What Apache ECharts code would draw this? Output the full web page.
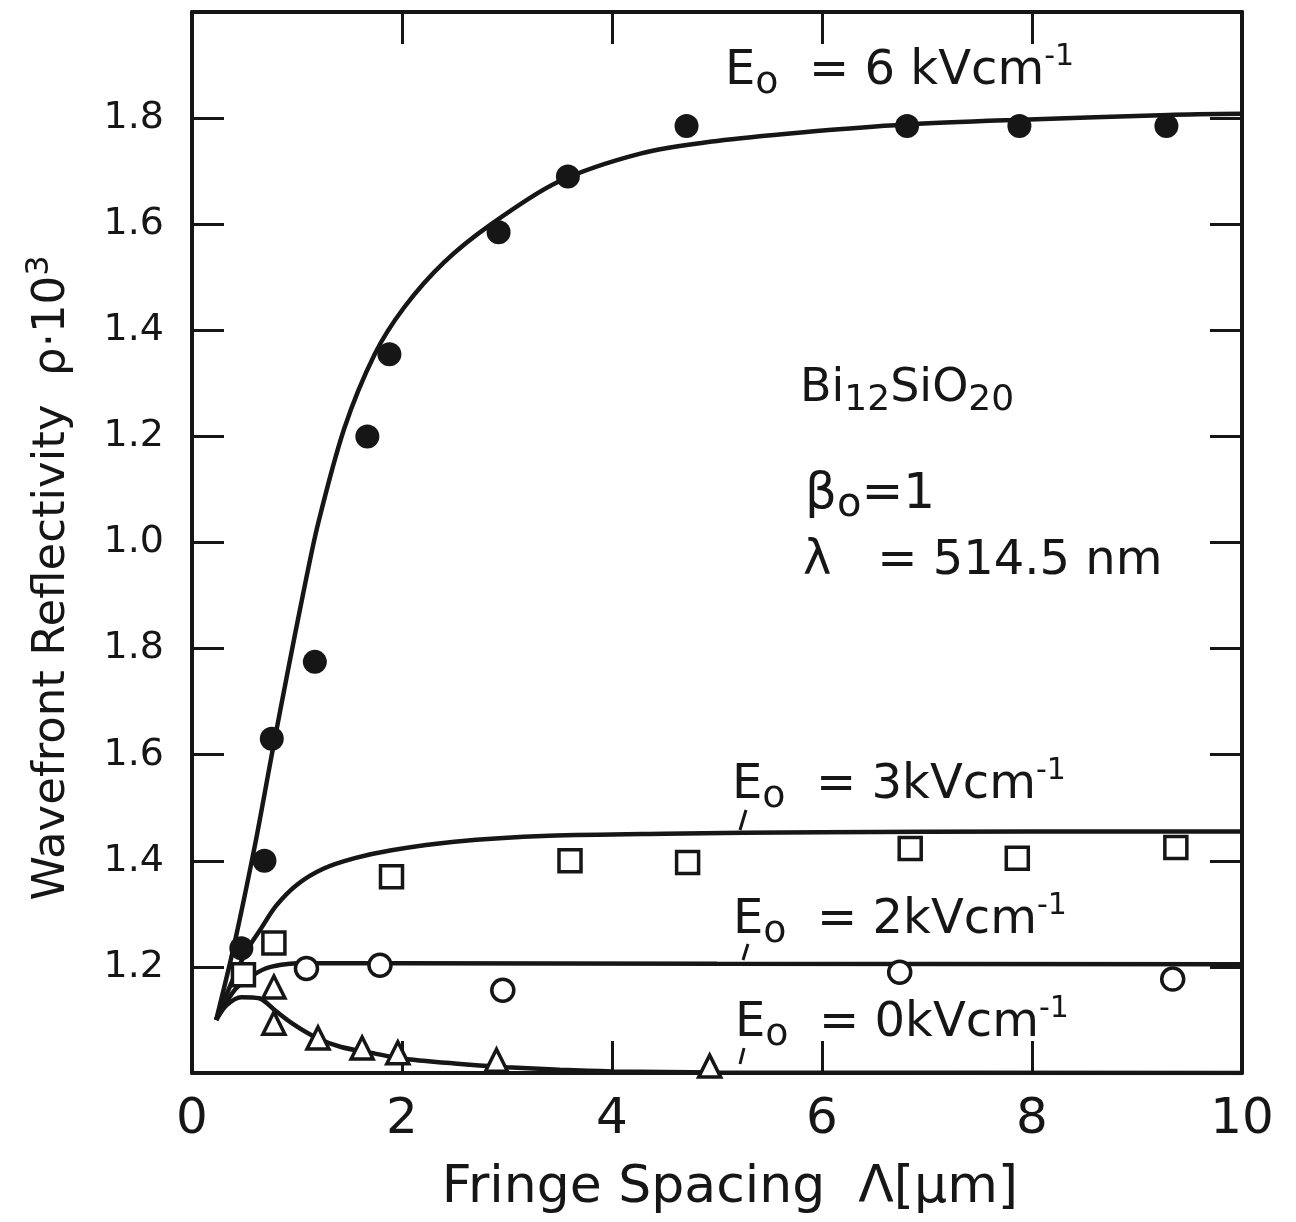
<!DOCTYPE html>
<html>
<head>
<meta charset="utf-8">
<title>Wavefront Reflectivity vs Fringe Spacing</title>
<script src="https://cdn.jsdelivr.net/npm/echarts@6/dist/echarts.min.js"></script>
<style>
  html, body { margin: 0; padding: 0; background: #fff; }
  #chart { width: 1296px; height: 1222px; }
</style>
</head>
<body>
<div id="chart"></div>
<script>
// tick labels as printed on the original figure (left axis repeats 1.2 .. 1.8)
const xTickValues = [0, 2, 4, 6, 8, 10];
const yTickLabels = ['', '1.2', '1.4', '1.6', '1.8', '1.0', '1.2', '1.4', '1.6', '1.8', ''];

// measured points  [fringe spacing um, rho*10^3 (axis units)]
const pts6kV = [[0.47, 0.235], [0.69, 0.40], [0.76, 0.63], [1.17, 0.775], [1.67, 1.20], [1.88, 1.355],
  [2.92, 1.585], [3.58, 1.69], [4.71, 1.785], [6.81, 1.785], [7.88, 1.785], [9.28, 1.785]];
const pts3kV = [[0.49, 0.185], [0.78, 0.245], [1.90, 0.37], [3.60, 0.40], [4.72, 0.397],
  [6.84, 0.423], [7.86, 0.405], [9.37, 0.425]];
const pts2kV = [[1.09, 0.197], [1.79, 0.203], [2.96, 0.156], [6.74, 0.19], [9.34, 0.177]];
const pts0kV = [[0.78, 0.162], [0.78, 0.094], [1.20, 0.066], [1.62, 0.047], [1.96, 0.038],
  [2.90, 0.024], [4.93, 0.013]];

// theory curves
const curve6kV = [[0.23, 0.10], [0.40, 0.24], [0.60, 0.43], [0.76, 0.60], [0.92, 0.765], [1.06, 0.905],
  [1.20, 1.035], [1.45, 1.215], [1.74, 1.355], [2.02, 1.443], [2.40, 1.528], [2.85, 1.60],
  [3.48, 1.679], [4.27, 1.733], [5.0, 1.757], [5.8, 1.773], [6.8, 1.788], [7.9, 1.797],
  [9.3, 1.806], [10, 1.808]];
const curve3kV = [[0.23, 0.10], [0.42, 0.19], [0.55, 0.24], [0.65, 0.27], [0.80, 0.315], [1.0, 0.355],
  [1.25, 0.385], [1.55, 0.405], [1.9, 0.42], [2.5, 0.436], [3.4, 0.447], [4.5, 0.451],
  [6.0, 0.454], [8.0, 0.455], [10, 0.455]];
const curve2kV = [[0.23, 0.10], [0.40, 0.155], [0.55, 0.18], [0.70, 0.197], [0.85, 0.204],
  [1.0, 0.207], [2.0, 0.207], [5.0, 0.206], [10, 0.205]];
const curve0kV = [[0.23, 0.10], [0.33, 0.128], [0.47, 0.143], [0.64, 0.141], [0.79, 0.118],
  [0.95, 0.094], [1.17, 0.068], [1.42, 0.049], [1.71, 0.038], [1.97, 0.028], [2.5, 0.018],
  [3.0, 0.011], [3.5, 0.006], [4.0, 0.003], [5.0, 0.001], [10, 0.0]];

const INK = '#161616';
const FONT = 'DejaVu Sans';

const chart = echarts.init(document.getElementById('chart'));

function frameAxis(extra) {
  return Object.assign({
    type: 'value',
    axisLine: { show: true, onZero: false, lineStyle: { color: INK, width: 4 } },
    axisTick: { show: true, inside: true, length: 32, lineStyle: { color: INK, width: 3 } },
    splitLine: { show: false }
  }, extra);
}

function curve(data) {
  return {
    type: 'line', data: data, showSymbol: false, smooth: 0.3, silent: true, z: 2,
    lineStyle: { color: INK, width: 4.5 }
  };
}

function points(data, symbol, size, filled) {
  return {
    type: 'scatter', data: data, symbol: symbol, symbolSize: size, silent: true, z: 5,
    itemStyle: filled
      ? { color: INK, opacity: 1 }
      : { color: '#fff', borderColor: INK, borderWidth: 3.5, opacity: 1 }
  };
}

const eText = { fontFamily: FONT, fill: INK };
function eLabel(value) {
  return {
    text: '{m|E}{sub|o}{m|  = ' + value + 'kVcm}{sup|-1}',
    fontFamily: FONT, fill: INK,
    rich: {
      m: { fontFamily: FONT, fontSize: 48, lineHeight: 60, color: INK },
      sub: { fontFamily: FONT, fontSize: 38, lineHeight: 34, verticalAlign: 'bottom', color: INK },
      sup: { fontFamily: FONT, fontSize: 30, lineHeight: 30, verticalAlign: 'top', color: INK }
    }
  };
}

chart.setOption({
  animation: false,
  backgroundColor: '#fff',
  grid: { left: 192, right: 54, top: 12, bottom: 149 },
  xAxis: [
    frameAxis({
      min: 0, max: 10, interval: 2, position: 'bottom',
      axisLabel: {
        color: INK, fontFamily: FONT, fontSize: 50, margin: 22,
        formatter: v => (xTickValues.indexOf(v) >= 0 ? String(v) : '')
      }
    }),
    frameAxis({ min: 0, max: 10, interval: 2, position: 'top', axisLabel: { show: false } })
  ],
  yAxis: [
    frameAxis({
      min: 0, max: 2, interval: 0.2, position: 'left',
      axisLabel: {
        color: INK, fontFamily: FONT, fontSize: 38, margin: 28,
        formatter: v => yTickLabels[Math.round(v / 0.2)] || ''
      }
    }),
    frameAxis({ min: 0, max: 2, interval: 0.2, position: 'right', axisLabel: { show: false } })
  ],
  series: [
    curve(curve6kV), curve(curve3kV), curve(curve2kV), curve(curve0kV),
    points(pts6kV, 'circle', 24, true),
    points(pts3kV, 'rect', 22, false),
    points(pts2kV, 'circle', 22, false),
    points(pts0kV, 'triangle', 22, false)
  ],
  graphic: [
    // axis titles
    {
      type: 'text', x: 52, y: 578, rotation: Math.PI / 2,
      style: {
        text: '{m|Wavefront Reflectivity  ρ·10}{sup|3}',
        align: 'center', verticalAlign: 'middle', fill: INK, fontFamily: FONT,
        rich: {
          m: { fontFamily: FONT, fontSize: 45, lineHeight: 56, color: INK },
          sup: { fontFamily: FONT, fontSize: 32, lineHeight: 30, verticalAlign: 'top', color: INK }
        }
      }
    },
    {
      type: 'text', x: 730, y: 1188,
      style: Object.assign({ text: 'Fringe Spacing  Λ[μm]', fontSize: 52, align: 'center', verticalAlign: 'middle' }, eText)
    },
    // field labels
    { type: 'text', left: 725, top: 42, style: eLabel('6 ') },
    { type: 'text', left: 732, top: 756, style: eLabel('3') },
    { type: 'text', left: 733, top: 891, style: eLabel('2') },
    { type: 'text', left: 735, top: 994, style: eLabel('0') },
    { type: 'line', shape: { x1: 746, y1: 810, x2: 740, y2: 830 }, style: { stroke: INK, lineWidth: 3 } },
    { type: 'line', shape: { x1: 748, y1: 944, x2: 743, y2: 960 }, style: { stroke: INK, lineWidth: 3 } },
    { type: 'line', shape: { x1: 744, y1: 1048, x2: 740, y2: 1064 }, style: { stroke: INK, lineWidth: 3 } },
    // sample / conditions
    {
      type: 'text', left: 800, top: 366,
      style: {
        text: '{m|Bi}{sub|12}{m|SiO}{sub|20}', fill: INK, fontFamily: FONT,
        rich: {
          m: { fontFamily: FONT, fontSize: 46, lineHeight: 60, color: INK },
          sub: { fontFamily: FONT, fontSize: 36, lineHeight: 32, verticalAlign: 'bottom', color: INK }
        }
      }
    },
    {
      type: 'text', left: 805, top: 470,
      style: {
        text: '{m|β}{sub|o}{m|=1}', fill: INK, fontFamily: FONT,
        rich: {
          m: { fontFamily: FONT, fontSize: 50, lineHeight: 62, color: INK },
          sub: { fontFamily: FONT, fontSize: 40, lineHeight: 36, verticalAlign: 'bottom', color: INK }
        }
      }
    },
    {
      type: 'text', left: 803, top: 538,
      style: Object.assign({ text: 'λ   = 514.5 nm', fontSize: 48 }, eText)
    }
  ]
});
</script>
</body>
</html>
